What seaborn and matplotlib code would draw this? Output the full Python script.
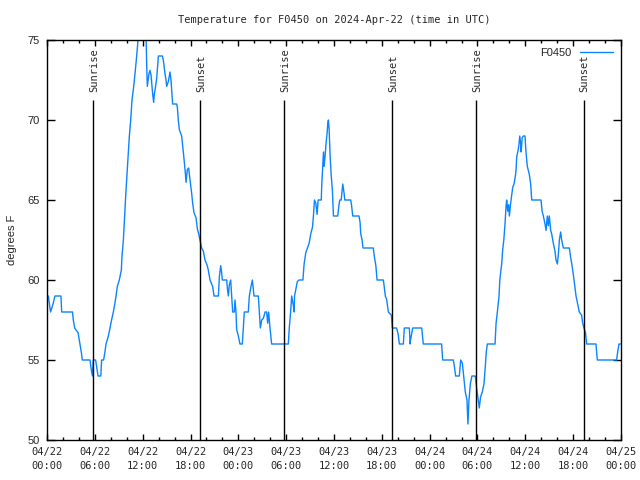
import numpy as np
import pandas as pd
import matplotlib
matplotlib.use("Agg")
import matplotlib.pyplot as plt
import seaborn as sns

# hours since 2024-04-22 00:00 UTC, temperature in F
hours = [0.0, 0.17, 0.3, 0.45, 0.75, 1.0, 1.75, 1.84, 3.2, 3.3, 3.47, 3.9, 4.14, 4.3, 4.43, 5.4,
         5.52, 5.7, 5.81, 6.1, 6.25, 6.4, 6.75, 6.85, 7.1, 7.27, 7.4, 7.7, 7.9, 8.1, 8.32, 8.5,
         8.66, 8.82, 9.07, 9.32, 9.41, 9.58, 9.74, 9.91, 10.08, 10.24, 10.33, 10.5, 10.66, 10.83,
         11.04, 11.25, 11.5, 12.42, 12.5, 12.58, 12.79, 12.92, 13.05, 13.26, 13.38, 13.46, 13.59,
         13.76, 13.97, 14.47, 14.59, 14.68, 14.8, 14.93, 15.01, 15.22, 15.43, 15.55, 15.76, 16.26,
         16.35, 16.47, 16.6, 16.89, 17.02, 17.18, 17.35, 17.44, 17.6, 17.77, 17.94, 18.15, 18.27,
         18.44, 18.69, 18.86, 19.02, 19.19, 19.4, 19.61, 19.82, 20.1, 20.24, 20.45, 20.78, 20.95,
         21.5, 21.62, 21.79, 21.9, 21.99, 22.54, 22.62, 22.75, 22.87, 23.04, 23.17, 23.29, 23.5,
         23.58, 23.71, 23.79, 24.0, 24.21, 24.5, 24.62, 24.75, 25.25, 25.38, 25.59, 25.76, 25.97,
         26.51, 26.64, 26.76, 26.93, 27.14, 27.35, 27.55, 27.68, 27.8, 27.97, 28.18, 30.27, 30.39,
         30.56, 30.69, 30.9, 31.0, 31.05, 31.2, 31.4, 31.6, 32.1, 32.25, 32.46, 32.67, 32.88, 33.09,
         33.3, 33.42, 33.55, 33.72, 33.88, 34.01, 34.4, 34.47, 34.6, 34.68, 34.76, 34.89, 35.01,
         35.14, 35.22, 35.3, 35.39, 35.51, 35.64, 35.8, 35.93, 36.47, 36.6, 36.72, 36.9, 36.98,
         37.1, 37.27, 37.35, 38.1, 38.22, 38.35, 39.14, 39.27, 39.35, 39.52, 39.64, 40.93, 41.05,
         41.25, 41.4, 42.19, 42.27, 42.44, 42.6, 42.82, 43.2, 43.32, 43.85, 44.05, 44.2, 44.7, 44.82,
         45.45, 45.55, 45.62, 45.87, 47.0, 47.2, 49.5, 49.63, 50.97, 51.1, 51.26, 51.72, 51.89,
         52.1, 52.26, 52.47, 52.68, 52.8, 52.93, 53.1, 53.3, 53.72, 53.93, 54.1, 54.22, 54.39, 54.6,
         54.81, 54.98, 55.1, 55.23, 56.2, 56.33, 56.49, 56.7, 56.8, 57.03, 57.16, 57.3, 57.45,
         57.58, 57.66, 57.79, 57.9, 58.0, 58.16, 58.29, 58.42, 58.58, 58.75, 58.84, 58.92, 59.09,
         59.21, 59.3, 59.42, 59.48, 59.6, 59.75, 59.96, 60.08, 60.25, 60.5, 60.67, 60.8, 61.97,
         62.1, 62.26, 62.47, 62.6, 62.76, 62.89, 63.01, 63.18, 63.3, 63.51, 63.72, 63.85, 64.02,
         64.14, 64.27, 64.43, 64.56, 64.77, 65.52, 65.69, 65.86, 66.11, 66.23, 66.36, 66.61, 66.77,
         67.06, 67.19, 67.36, 67.55, 67.69, 68.86, 69.03, 71.45, 71.58, 71.75, 72.0]
temps = [59, 59, 58.5, 58, 58.5, 59, 59, 58, 58, 57.5, 57, 56.7, 56, 55.5, 55, 55,
         54.5, 54, 55, 55, 54.5, 54, 54, 55, 55, 55.5, 56, 56.5, 57, 57.5, 58, 58.5,
         59, 59.6, 60, 60.6, 61.5, 62.5, 64, 65.6, 67, 68.4, 69, 70, 71.25, 71.9,
         72.9, 74, 75.5, 75.5, 73.5, 72.1, 72.9, 73.1, 72.8, 71.6, 71.1, 71.6, 72,
         72.6, 74, 74, 73.75, 73.4, 72.9, 72.5, 72.1, 72.4, 73, 72.5, 71, 71,
         70.8, 70, 69.4, 69, 68.4, 67.6, 66.7, 66.1, 66.9, 67, 66.25, 65.4, 64.8,
         64.2, 63.9, 63.2, 62.9, 62.5, 62, 61.8, 61.25, 60.9, 60.6, 60, 59.6, 59,
         59, 60.2, 60.9, 60.5, 60, 60, 59.5, 59, 59.7, 60, 59, 58, 58,
         58.75, 58, 56.9, 56.5, 56, 56, 57, 58, 58, 59, 59.6, 60, 59,
         59, 58, 57, 57.5, 57.6, 58, 58, 57.3, 58, 57, 56, 56, 57,
         58, 59, 58.4, 58, 59, 59.4, 59.9, 60, 60, 61, 61.7, 62, 62.3, 62.9,
         63.3, 64, 65, 64.8, 64.1, 65, 65, 66, 67.3, 68, 67.1, 67.8, 68.6,
         69.2, 69.8, 70, 69.4, 67.8, 66.6, 65.6, 64, 64, 64.6, 65, 65, 65.4,
         66, 65.4, 65, 65, 64.6, 64, 64, 63.6, 62.9, 62.5, 62, 62, 61.5,
         60.9, 60, 60, 59.7, 59, 58.8, 58, 57.8, 57, 57, 56.6, 56, 56, 57,
         57, 56, 56.3, 57, 57, 56, 56, 55, 55, 54.6, 54, 54, 55,
         54.8, 54, 53, 52.5, 51, 52.5, 53.5, 54, 54, 53.1, 52.5, 52, 52.7, 53,
         53.5, 54.6, 55.5, 56, 56, 57.3, 58, 59, 60, 61, 61.9, 62.5, 63.5,
         64.6, 65, 64.3, 64.7, 64, 64.8, 65.3, 65.8, 66, 66.5, 66.9, 67.7, 68.1,
         68.5, 69, 68.5, 68, 68.9, 69, 69, 68, 67.1, 66.6, 66, 65, 65,
         64.3, 64, 63.5, 63.1, 64, 63.4, 64, 63.1, 62.9, 62.3, 61.8, 61.25, 61,
         61.6, 62.5, 63, 62.5, 62, 62, 61.4, 60.9, 60, 59.5, 59, 58.4, 58,
         57.8, 57.3, 57, 56.7, 56, 56, 55, 55, 55.5, 56, 56]

sunrise = [5.8, 29.77, 53.8]
sunset = [19.23, 43.3, 67.3]

xtick_labels = ["04/22\n00:00", "04/22\n06:00", "04/22\n12:00", "04/22\n18:00",
                "04/23\n00:00", "04/23\n06:00", "04/23\n12:00", "04/23\n18:00",
                "04/24\n00:00", "04/24\n06:00", "04/24\n12:00", "04/24\n18:00",
                "04/25\n00:00"]

df = pd.DataFrame({"hours": hours, "temp": temps})

sns.set_style("ticks")
mono = "DejaVu Sans Mono"
sans = "Liberation Sans"

fig = plt.figure(figsize=(6.4, 4.8), dpi=100)
ax = fig.add_axes([47 / 640, 40 / 480, 574 / 640, 400 / 480])

sns.lineplot(data=df, x="hours", y="temp", ax=ax, sort=False, estimator=None,
             color="#0a84ff", linewidth=1, label="F0450")

# sunrise / sunset markers
for h in sunrise + sunset:
    ax.vlines(h, 50, 71.25, color="black", linewidth=1)
for h in sunrise:
    ax.text(h + 0.15, 71.75, "Sunrise", rotation=90, ha="center", va="bottom",
            fontsize=7.5, family=mono)
for h in sunset:
    ax.text(h + 0.15, 71.75, "Sunset", rotation=90, ha="center", va="bottom",
            fontsize=7.5, family=mono)

ax.set_xlim(0, 72)
ax.set_ylim(50, 75)
ax.set_xticks(np.arange(0, 73, 6))
ax.set_xticklabels(xtick_labels, family=mono, fontsize=7.5, linespacing=1.45)
ax.set_xticks(np.arange(0, 73, 2), minor=True)
ax.set_yticks([50, 55, 60, 65, 70, 75])
ax.set_yticklabels(["50", "55", "60", "65", "70", "75"], family=sans, fontsize=8)
ax.tick_params(which="both", direction="in", top=True, right=True, width=1, color="black")
ax.tick_params(axis="x", which="major", length=4, pad=5)
ax.tick_params(axis="x", which="minor", length=2)
ax.tick_params(axis="y", which="major", length=6, pad=5)
for s in ax.spines.values():
    s.set_visible(True)
    s.set_color("black")
    s.set_linewidth(1)

ax.set_xlabel("")
ax.set_ylabel("degrees F", family=sans, fontsize=8, labelpad=8)
ax.set_title("Temperature for F0450 on 2024-Apr-22 (time in UTC)", family=mono,
             fontsize=7.5, pad=12)

leg = ax.legend(loc="upper right", frameon=False, markerfirst=False, handlelength=3,
                borderaxespad=0.3, prop={"family": sans, "size": 8})

fig.savefig("out.png", dpi=100)
